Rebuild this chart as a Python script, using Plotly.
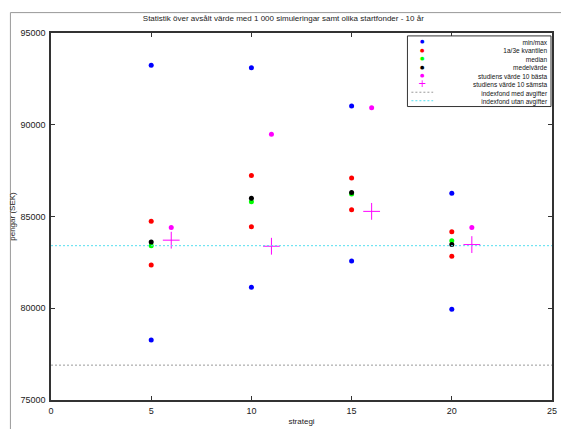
import plotly.graph_objects as go

strategies = [5, 10, 15, 20]
study_x = [6, 11, 16, 21]
max_vals = [93240, 93100, 91020, 86270]
min_vals = [78270, 81150, 82580, 79940]
q3_vals = [84740, 87240, 87100, 84170]
q1_vals = [82360, 84440, 85370, 82830]
median_vals = [83410, 85810, 86220, 83680]
mean_vals = [83610, 86000, 86310, 83480]
best10_vals = [84400, 89480, 90930, 84400]
worst10_vals = [83710, 83380, 85280, 83470]
index_med = 76900
index_utan = 83410
x_range = [0, 25]
y_ticks = [75000, 80000, 85000, 90000, 95000]
x_ticks = [0, 5, 10, 15, 20, 25]

legend_labels = ["min/max", "1a/3e kvantilen", "median", "medelvärde",
                 "studiens värde 10 bästa", "studiens värde 10 sämsta",
                 "indexfond med avgifter", "indexfond utan avgifter"]

BLUE, RED, GREEN, BLACK, MAG = "#0000ff", "#ff0000", "#00ff00", "#000000", "#ff00ff"
GREY, CYAN = "#999999", "#55dff0"

fig = go.Figure()
dot = dict(size=5)
fig.add_trace(go.Scatter(x=strategies + strategies, y=max_vals + min_vals, mode="markers",
                         name=legend_labels[0], marker=dict(color=BLUE, **dot)))
fig.add_trace(go.Scatter(x=strategies + strategies, y=q1_vals + q3_vals, mode="markers",
                         name=legend_labels[1], marker=dict(color=RED, **dot)))
fig.add_trace(go.Scatter(x=strategies, y=median_vals, mode="markers",
                         name=legend_labels[2], marker=dict(color=GREEN, **dot)))
fig.add_trace(go.Scatter(x=strategies, y=mean_vals, mode="markers",
                         name=legend_labels[3], marker=dict(color=BLACK, **dot)))
fig.add_trace(go.Scatter(x=study_x, y=best10_vals, mode="markers",
                         name=legend_labels[4], marker=dict(color=MAG, **dot)))
fig.add_trace(go.Scatter(x=study_x, y=worst10_vals, mode="markers",
                         name=legend_labels[5],
                         marker=dict(color=MAG, symbol="cross-thin", size=12,
                                     line=dict(color=MAG, width=1))))
fig.add_trace(go.Scatter(x=x_range, y=[index_med, index_med], mode="lines",
                         name=legend_labels[6], line=dict(color=GREY, width=1, dash="2px,2px")))
fig.add_trace(go.Scatter(x=x_range, y=[index_utan, index_utan], mode="lines",
                         name=legend_labels[7], line=dict(color=CYAN, width=1, dash="2px,2px")))

axis_common = dict(showgrid=False, zeroline=False, showline=True, linecolor="#333333",
                   linewidth=1.5, mirror="ticks", ticks="inside", ticklen=4,
                   tickcolor="#333333", tickfont=dict(size=9, color="#222222"))

# Compact legend box (matplotlib-style), drawn in paper coordinates
W, H, L, T = 506.0, 378.0, 51.0, 33.0
def px_x(p):
    return (p - L) / W
def px_y(p):
    return (T + H - p) / H

LEG_FONT = 6.5
line_h = 8.75
row0 = 41.5
n = len(legend_labels)
box_top, box_bottom = 36.0, row0 + (n - 1) * line_h + 6

shapes = [
    dict(type="rect", xref="paper", yref="paper", x0=-0.081, x1=1.05, y0=-0.2, y1=1.0556,
         line=dict(color="#999999", width=1), layer="below"),
    dict(type="rect", xref="paper", yref="paper", x0=px_x(411), x1=px_x(556),
         y0=px_y(box_bottom), y1=px_y(box_top), line=dict(color="#333333", width=1),
         fillcolor="white", layer="above"),
]
annotations = [dict(xref="paper", yref="paper", x=px_x(555), y=px_y(row0 - line_h / 2),
                    xanchor="right", yanchor="top", align="right",
                    text="<br>".join(legend_labels), showarrow=False,
                    font=dict(size=LEG_FONT, color="#111111"))]
sym_specs = [("●", BLUE, 5), ("●", RED, 5), ("●", GREEN, 5), ("●", BLACK, 5),
             ("●", MAG, 5), ("+", MAG, 10), (None, GREY, 0), (None, CYAN, 0)]
for i, (sym, col, sz) in enumerate(sym_specs):
    yc = row0 + i * line_h
    if sym is not None:
        annotations.append(dict(xref="paper", yref="paper", x=px_x(426), y=px_y(yc),
                                xanchor="center", yanchor="middle", text=sym, showarrow=False,
                                font=dict(size=sz, color=col, family="DejaVu Sans")))
    else:
        shapes.append(dict(type="line", xref="paper", yref="paper", x0=px_x(415), x1=px_x(437),
                           y0=px_y(yc), y1=px_y(yc),
                           line=dict(color=col, width=1, dash="2px,2px")))

fig.update_layout(
    width=561, height=429,
    margin=dict(l=51, r=4, t=33, b=18),
    paper_bgcolor="white", plot_bgcolor="white",
    showlegend=False,
    font=dict(family="Liberation Sans, Arial, sans-serif", color="#222222"),
    title=dict(text="Statistik över avsålt värde med 1 000 simuleringar samt olika startfonder - 10 år",
               x=0.505, xanchor="center", y=0.958, yanchor="middle", font=dict(size=8)),
    xaxis=dict(range=x_range, tickvals=x_ticks, ticklabelstandoff=1,
               title=dict(text="strategi", font=dict(size=8), standoff=4), **axis_common),
    yaxis=dict(range=[75000, 95000], tickvals=y_ticks, tickformat="d", ticklabelstandoff=2,
               title=dict(text="pengar (SEK)", font=dict(size=8), standoff=4), **axis_common),
    shapes=shapes,
    annotations=annotations,
)

fig.write_html("out.html")
